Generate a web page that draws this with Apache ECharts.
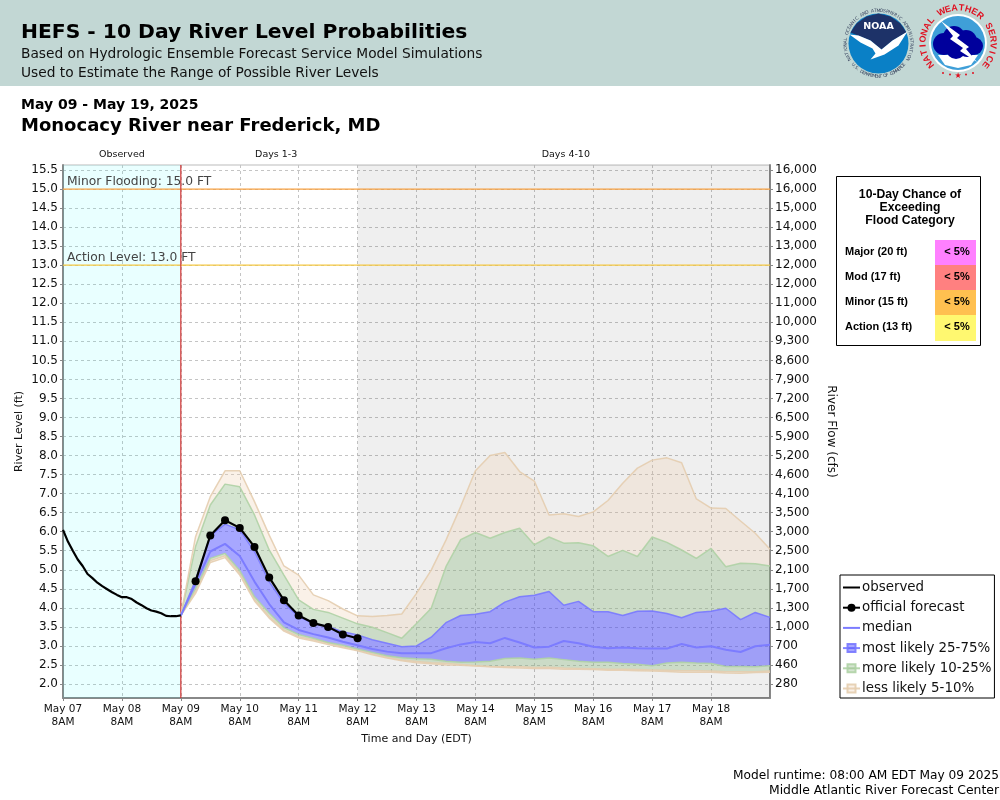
<!DOCTYPE html>
<html>
<head>
<meta charset="utf-8">
<script src="https://cdn.jsdelivr.net/npm/echarts@6/dist/echarts.min.js"></script>
<style>
  html, body { margin: 0; padding: 0; background: #fff; }
  #chart { width: 1000px; height: 800px; }
</style>
</head>
<body>
<div id="chart"></div>
<script>
// chart values
const dayLabels = ['May 07','May 08','May 09','May 10','May 11','May 12','May 13','May 14','May 15','May 16','May 17','May 18']
const levelTicks = [2,2.5,3,3.5,4,4.5,5,5.5,6,6.5,7,7.5,8,8.5,9,9.5,10,10.5,11,11.5,12,12.5,13,13.5,14,14.5,15,15.5]
const flowTicks = ['280','460','700','1,000','1,300','1,700','2,100','2,500','3,000','3,500','4,100','4,600','5,200','5,900','6,500','7,200','7,900','8,600','9,300','10,000','11,000','12,000','12,000','13,000','14,000','15,000','16,000','16,000']

// hours since May 07 8AM
const observedHours = [0,2,4,6,8,10,12,14,16,18,20,22,24,26,28,30,32,34,36,38,40,42,44,46,48]
const observedLevels = [6.05,5.74,5.50,5.27,5.10,4.89,4.78,4.66,4.57,4.49,4.41,4.34,4.28,4.28,4.23,4.14,4.07,3.99,3.93,3.90,3.86,3.79,3.78,3.78,3.80]

const officialHours = [54,60,66,72,78,84,90,96,102,108,114,120]
const officialLevels = [4.7,5.9,6.3,6.1,5.6,4.8,4.2,3.8,3.6,3.5,3.3,3.2]

const ensembleHours = [48,54,60,66,72,78,84,90,96,102,108,114,120,126,132,138,144,150,156,162,168,174,180,186,192,198,204,210,216,222,228,234,240,246,252,258,264,270,276,282,288]
const p95 = [3.8,5.87,6.92,7.6,7.6,6.79,5.91,5.10,4.86,4.34,4.19,3.97,3.79,3.77,3.80,3.84,4.38,4.99,5.78,6.66,7.60,8.0,8.08,7.58,7.33,6.44,6.47,6.40,6.52,6.82,7.27,7.67,7.88,7.94,7.81,6.86,6.62,6.61,6.28,5.96,5.54]
const p90 = [3.8,5.61,6.70,7.25,7.18,6.44,5.52,4.86,4.21,3.96,3.88,3.73,3.58,3.49,3.35,3.20,3.59,3.99,5.08,5.79,5.98,5.83,5.98,6.09,5.66,5.86,5.70,5.71,5.63,5.35,5.51,5.35,5.86,5.72,5.52,5.30,5.56,5.08,5.17,5.16,5.10]
const p75 = [3.8,4.73,5.89,6.2,6.05,5.48,4.69,4.12,3.77,3.59,3.51,3.37,3.29,3.16,3.07,2.98,3.0,3.23,3.61,3.80,3.83,3.90,4.15,4.29,4.33,4.43,4.07,4.17,3.90,3.90,3.80,3.91,3.92,3.85,3.74,3.88,3.91,3.99,3.69,3.88,3.75]
const p50 = [3.8,4.64,5.48,5.68,5.36,4.69,4.10,3.62,3.42,3.31,3.22,3.11,3.02,2.92,2.85,2.81,2.81,2.81,2.94,3.04,3.10,3.07,3.21,3.09,2.96,2.98,3.13,3.07,2.98,2.94,2.96,2.94,2.93,2.93,3.05,2.96,2.99,2.90,2.84,2.99,3.03]
const p25 = [3.8,4.51,5.30,5.43,4.98,4.29,3.86,3.48,3.30,3.20,3.09,3.02,2.92,2.83,2.74,2.69,2.66,2.65,2.60,2.57,2.58,2.60,2.67,2.68,2.65,2.68,2.64,2.60,2.57,2.57,2.54,2.52,2.48,2.55,2.57,2.55,2.54,2.46,2.46,2.45,2.48]
const p10 = [3.8,4.43,5.24,5.37,4.91,4.22,3.77,3.42,3.24,3.16,3.07,2.98,2.89,2.79,2.70,2.63,2.59,2.56,2.54,2.51,2.48,2.46,2.45,2.45,2.43,2.44,2.42,2.41,2.40,2.39,2.39,2.38,2.37,2.36,2.35,2.35,2.34,2.32,2.32,2.32,2.34]
const p05 = [3.8,4.38,5.19,5.32,4.86,4.18,3.73,3.39,3.21,3.13,3.04,2.95,2.87,2.77,2.68,2.61,2.56,2.53,2.50,2.49,2.47,2.45,2.43,2.42,2.41,2.41,2.39,2.39,2.38,2.36,2.36,2.35,2.34,2.33,2.31,2.31,2.31,2.29,2.28,2.30,2.31]

const floodStages = [15, 13]
const floodStageLabels = ['Minor Flooding: 15.0 FT', 'Action Level: 13.0 FT']
const forecastStartHour = 48

const floodCategories = ['Major (20 ft)','Mod (17 ft)','Minor (15 ft)','Action (13 ft)']
const floodChances = ['< 5%','< 5%','< 5%','< 5%']
const floodColors = ['#ff80ff','#ff8080','#ffc050','#fff870']

const FONT = '"DejaVu Sans"'
const BLUE = 'rgba(80,80,255,0.5)', BLUE_EDGE = 'rgba(120,120,255,0.9)'
const GREEN = 'rgba(150,190,140,0.4)', GREEN_EDGE = 'rgba(175,210,165,0.9)'
const TAN = 'rgba(240,210,180,0.3)', TAN_EDGE = 'rgba(228,205,175,0.9)'

const Y_MIN = 1.632, Y_MAX = 15.632

// x axis is a category axis of 2 hour slots, a category axis is what lets the bands stack on y
const hourSlots = []
for (let h = 0; h <= 288; h += 2) hourSlots.push(String(h))
const slot = h => h / 2
const everyDay = i => i % 12 === 0 && i < 144

// stacked band: thickness between two percentile lines
function band(name, upper, lower, fill, edge){
    return {
        name: name, type: 'line', stack: 'bands', symbol: 'rect', showSymbol: false, silent: true,
        data: ensembleHours.map((h, i) => [slot(h), +(upper[i] - lower[i]).toFixed(2)]),
        lineStyle: { color: edge, width: 1.5 },
        itemStyle: { color: fill, borderColor: edge, borderWidth: 1 },
        areaStyle: { color: fill, opacity: 1 },
        z: 3
    }
}

function pair(xs, ys){
    return xs.map((x, i) => [slot(x), ys[i]])
}

// flood stage as a plain two point line, the label hangs off its first point
function stageLine(level, color, text){
    return {
        name: text, type: 'line', silent: true, z: 2,
        symbol: 'circle', symbolSize: 0, showAllSymbol: true,
        lineStyle: { color: color, width: 1.2 }, itemStyle: { color: color },
        data: [
            {
                value: [0, level],
                label: { show: true, position: 'right', distance: 4, offset: [0, -7], fontFamily: FONT, fontSize: 12.3, color: '#444', formatter: text }
            },
            { value: [slot(288), level] }
        ]
    }
}

// text set letter by letter on a circle, angles clockwise from the top
function ringText(text, cx, cy, r, from, to, font, fill, inward){
    return text.split('').map((ch, i) => {
        const deg = from + (to - from) * i / (text.length - 1)
        const a = deg * Math.PI / 180
        return {
            type: 'text', x: cx + r * Math.sin(a), y: cy - r * Math.cos(a),
            rotation: inward ? -a + Math.PI : -a,
            style: { text: ch, font: font, fill: fill, align: 'center', verticalAlign: 'middle' }
        }
    })
}

function headerGraphics(){
    const t = (text, x, y, font, extra) => ({
        type: 'text', x: x, y: y,
        style: Object.assign({ text: text, font: font, fill: '#000', verticalAlign: 'middle' }, extra || {})
    })
    return [
        { type: 'rect', shape: { x: 0, y: 0, width: 1000, height: 86 }, style: { fill: '#c2d7d4' } },
        t('HEFS - 10 Day River Level Probabilities', 21, 33, 'bold 20.3px ' + FONT),
        t('Based on Hydrologic Ensemble Forecast Service Model Simulations', 21, 54, '13.75px ' + FONT, { fill: '#111' }),
        t('Used to Estimate the Range of Possible River Levels', 21, 73, '13.75px ' + FONT, { fill: '#111' }),
        t('May 09 - May 19, 2025', 21, 105, 'bold 14px ' + FONT),
        t('Monocacy River near Frederick, MD', 21, 126, 'bold 18px ' + FONT),
        t('Model runtime: 08:00 AM EDT May 09 2025', 999, 776, '12.2px ' + FONT, { align: 'right' }),
        t('Middle Atlantic River Forecast Center', 999, 791, '12.4px ' + FONT, { align: 'right' })
    ]
}

function noaaLogo(){
    const cx = 878.5, cy = 43.5
    return [
        { type: 'circle', shape: { cx: cx, cy: cy, r: 30 }, style: { fill: '#0a80c6' } },
        { type: 'polygon', shape: { points: [[cx-28,cy-11],[cx-22,cy-20],[cx-12,cy-27],[cx,cy-30],[cx+12,cy-27],[cx+22,cy-20],[cx+28,cy-11],[cx+14,cy-3],[cx+3,cy+6],[cx-8,cy-3]] }, style: { fill: '#1d3268' } },
        { type: 'polygon', shape: { points: [[cx-29,cy-9],[cx-20,cy-8],[cx-8,cy-3],[cx+3,cy+6],[cx+14,cy-3],[cx+29,cy-12],[cx+20,cy+2],[cx+6,cy+11],[cx-8,cy+16],[cx-3,cy+10],[cx-6,cy+5],[cx-18,cy-1]] }, style: { fill: '#fff' } },
        { type: 'text', x: cx, y: cy - 17, style: { text: 'NOAA', font: 'bold 9.5px ' + FONT, fill: '#fff', align: 'center', verticalAlign: 'middle' } }
    ].concat(
        ringText('NATIONAL OCEANIC AND ATMOSPHERIC ADMINISTRATION', cx, cy, 33, -118, 118, '4.5px ' + FONT, '#3a4660'),
        ringText('U.S. DEPARTMENT OF COMMERCE', cx, cy, 33, -130, -230, '4.5px ' + FONT, '#3a4660', true)
    )
}

function nwsLogo(){
    const cx = 958, cy = 43, navy = '#00009c', red = '#e01020'
    const puff = (x, y, r) => ({ type: 'circle', shape: { cx: cx + x, cy: cy + y, r: r }, style: { fill: navy } })
    const dot = x => ({ type: 'circle', shape: { cx: cx + x, cy: cy + 33 - Math.abs(x) / 5, r: 1 }, style: { fill: red } })
    return [
        { type: 'circle', shape: { cx: cx, cy: cy, r: 29 }, style: { fill: '#fff' } },
        { type: 'circle', shape: { cx: cx, cy: cy, r: 27 }, style: { fill: '#3f9fd8' } },
        { type: 'polygon', shape: { points: [[cx-20,cy+12],[cx+20,cy+12],[cx+13,cy+22],[cx,cy+25],[cx-13,cy+22]] }, style: { fill: '#fff' } },
        puff(-14, 1, 11), puff(-4, -6, 11), puff(8, -2, 11), puff(16, 3, 9), puff(-2, 6, 10), puff(9, 6, 8),
        { type: 'polygon', shape: { points: [[cx-17,cy-22],[cx+2,cy-8],[cx-1,cy-5],[cx+11,cy+4],[cx+8,cy+6],[cx+19,cy+19],[cx+2,cy+8],[cx+5,cy+5],[cx-8,cy-4],[cx-5,cy-7]] }, style: { fill: '#fff' } },
        { type: 'text', x: cx, y: cy + 33, style: { text: '★', font: '8px ' + FONT, fill: red, align: 'center', verticalAlign: 'middle' } },
        dot(-15), dot(-8), dot(8), dot(15)
    ].concat(ringText('NATIONAL WEATHER SERVICE', cx, cy, 35, -128, 128, 'bold 9px "Liberation Sans"', red))
}

function floodBox(){
    const sans = '"Liberation Sans"'
    const out = [
        { type: 'rect', shape: { x: 836.5, y: 176.5, width: 144, height: 169 }, style: { fill: '#fff', stroke: '#000', lineWidth: 1 } }
    ]
    ;['10-Day Chance of', 'Exceeding', 'Flood Category'].forEach((line, i) => {
        out.push({ type: 'text', x: 910, y: 195 + i * 13, style: { text: line, font: 'bold 12.2px ' + sans, fill: '#000', align: 'center', verticalAlign: 'middle' } })
    })
    floodCategories.forEach((name, i) => {
        const y = 240 + i * 25
        out.push({ type: 'rect', shape: { x: 935, y: y, width: 41, height: i === 3 ? 26 : 25 }, style: { fill: floodColors[i] } })
        out.push({ type: 'text', x: 845, y: y + 12, style: { text: name, font: 'bold 11px ' + sans, fill: '#000', verticalAlign: 'middle' } })
        out.push({ type: 'text', x: 957, y: y + 12, style: { text: floodChances[i], font: 'bold 11px ' + sans, fill: '#000', align: 'center', verticalAlign: 'middle' } })
    })
    return out
}

const myChart = echarts.init(document.getElementById('chart'), null, { renderer: 'canvas' })

myChart.setOption({
    animation: false,
    backgroundColor: '#fff',
    textStyle: { fontFamily: FONT },
    grid: { left: 63, top: 165, width: 707, height: 533, show: true, borderColor: '#bbb', borderWidth: 1, backgroundColor: 'transparent' },
    legend: {
        left: 840, top: 575, orient: 'vertical', selectedMode: false,
        backgroundColor: '#fff', borderColor: '#000', borderWidth: 1,
        padding: [6, 3, 3, 2], itemGap: 7.2, itemWidth: 17, itemHeight: 10,
        textStyle: { fontFamily: FONT, fontSize: 13.4, color: '#111', padding: [0, 0, 0, -3] },
        data: [
            { name: 'observed', itemStyle: { opacity: 0 } },
            'official forecast',
            { name: 'median', itemStyle: { opacity: 0 } },
            'most likely 25-75%', 'more likely 10-25%', 'less likely 5-10%'
        ]
    },
    xAxis: {
        type: 'category', data: hourSlots, boundaryGap: false,
        name: 'Time and Day (EDT)', nameLocation: 'middle', nameGap: 36, nameMoveOverlap: false,
        nameTextStyle: { fontFamily: FONT, fontSize: 11, color: '#111' },
        axisLine: { show: true, lineStyle: { color: '#888', width: 2 } },
        axisTick: { show: true, length: 3, interval: everyDay, alignWithLabel: true, lineStyle: { color: '#888' } },
        axisLabel: {
            fontFamily: FONT, fontSize: 10.5, color: '#111', lineHeight: 13, margin: 5, interval: everyDay,
            formatter: (v, i) => dayLabels[i / 12] + '\n8AM'
        },
        splitLine: { show: true, interval: everyDay, lineStyle: { color: '#c4c4c4', type: [3, 3] } }
    },
    yAxis: [
        {
            type: 'value', min: Y_MIN, max: Y_MAX, position: 'left',
            name: 'River Level (ft)', nameLocation: 'middle', nameGap: 38, nameRotate: 90, nameMoveOverlap: false,
            nameTextStyle: { fontFamily: FONT, fontSize: 11, color: '#111' },
            axisLine: { show: true, lineStyle: { color: '#888', width: 2 } },
            axisTick: { show: true, length: 3, lineStyle: { color: '#888' }, customValues: levelTicks },
            axisLabel: { fontFamily: FONT, fontSize: 12, color: '#111', margin: 5, customValues: levelTicks, formatter: v => v.toFixed(1) },
            splitLine: { show: true, lineStyle: { color: '#c4c4c4', type: [3, 3] } }
        },
        {
            type: 'value', min: Y_MIN, max: Y_MAX, position: 'right',
            name: 'River Flow (cfs)', nameLocation: 'middle', nameGap: 55, nameRotate: -90, nameMoveOverlap: false,
            nameTextStyle: { fontFamily: FONT, fontSize: 12, color: '#111' },
            axisLine: { show: true, lineStyle: { color: '#888', width: 2 } },
            axisTick: { show: true, length: 3, lineStyle: { color: '#888' }, customValues: levelTicks },
            axisLabel: { fontFamily: FONT, fontSize: 12, color: '#111', margin: 5, customValues: levelTicks, formatter: v => flowTicks[levelTicks.indexOf(v)] },
            splitLine: { show: false }
        }
    ],
    series: [
        {
            // period shading
            name: 'periods', type: 'line', data: [], z: 1, silent: true,
            markArea: {
                silent: true,
                label: { position: 'top', distance: 5, fontFamily: FONT, fontSize: 9.5, color: '#111' },
                data: [
                    [{ name: 'Observed', xAxis: slot(0), itemStyle: { color: 'rgba(0,255,255,0.085)' } }, { xAxis: slot(48) }],
                    [{ name: 'Days 1-3', xAxis: slot(48), itemStyle: { color: 'rgba(255,255,255,0)' }, label: { offset: [7, 0] } }, { xAxis: slot(120) }],
                    [{ name: 'Days 4-10', xAxis: slot(120), itemStyle: { color: 'rgba(0,0,0,0.063)' }, label: { offset: [2, 0] } }, { xAxis: slot(288) }]
                ]
            }
        },
        stageLine(floodStages[0], '#f7a040', floodStageLabels[0]),
        stageLine(floodStages[1], '#f5c842', floodStageLabels[1]),
        {
            name: 'forecast start', type: 'line', symbol: 'none', silent: true, z: 2,
            lineStyle: { color: '#d03030', width: 1.2 },
            data: [[slot(forecastStartHour), Y_MIN], [slot(forecastStartHour), Y_MAX]]
        },
        {
            name: 'base', type: 'line', stack: 'bands', symbol: 'none', silent: true,
            data: pair(ensembleHours, p05), lineStyle: { color: TAN_EDGE, width: 1.5 }, z: 3
        },
        band('less likely 5-10%', p10, p05, TAN, TAN_EDGE),
        band('more likely 10-25%', p25, p10, GREEN, GREEN_EDGE),
        band('most likely 25-75%', p75, p25, BLUE, BLUE_EDGE),
        band('more likely 10-25%', p90, p75, GREEN, GREEN_EDGE),
        band('less likely 5-10%', p95, p90, TAN, TAN_EDGE),
        {
            name: 'median', type: 'line', symbol: 'none', silent: true, z: 4,
            data: pair(ensembleHours, p50),
            lineStyle: { color: '#7c7cff', width: 2 }, itemStyle: { color: '#7c7cff' }
        },
        {
            name: 'observed', type: 'line', symbol: 'none', silent: true, z: 5,
            data: pair(observedHours, observedLevels),
            lineStyle: { color: '#000', width: 2.2 }, itemStyle: { color: '#000' }
        },
        {
            name: 'official forecast', type: 'line', symbol: 'circle', symbolSize: 8, showAllSymbol: true, silent: true, z: 6,
            data: pair(officialHours, officialLevels),
            lineStyle: { color: '#000', width: 2.2 }, itemStyle: { color: '#000' }
        }
    ],
    graphic: { elements: headerGraphics().concat(noaaLogo(), nwsLogo(), floodBox()) }
})
</script>
</body>
</html>
